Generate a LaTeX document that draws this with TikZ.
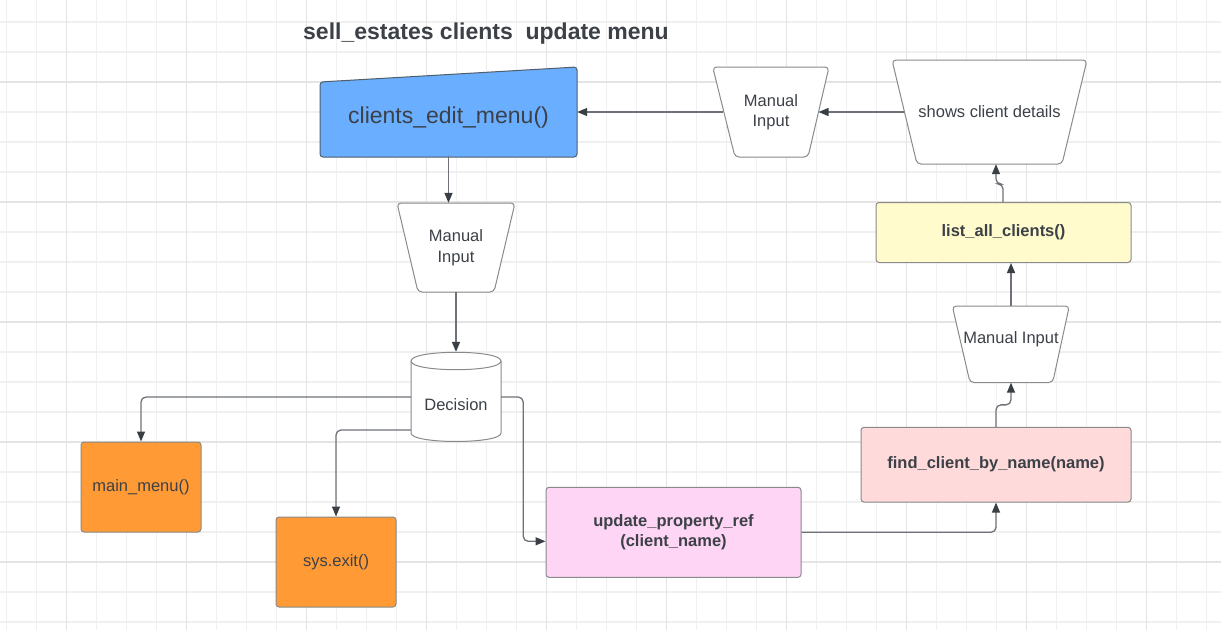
\documentclass[tikz,border=0pt]{standalone}
\usepackage{fontspec}
\setmainfont{Liberation Sans}
\usetikzlibrary{arrows.meta}
\definecolor{txt}{HTML}{3C4148}
\definecolor{gridminor}{HTML}{F0F0F0}
\definecolor{gridmajor}{HTML}{E4E4E4}
\definecolor{boxline}{HTML}{8A8A8A}
\definecolor{conline}{HTML}{6E7278}
\definecolor{headcol}{HTML}{3A3F46}
\definecolor{blueFill}{HTML}{6AAEFF}
\definecolor{blueLine}{HTML}{4F5D6C}
\definecolor{orangeFill}{HTML}{FF9A35}
\definecolor{pinkFill}{HTML}{FFD5F5}
\definecolor{roseFill}{HTML}{FFDADA}
\definecolor{yellowFill}{HTML}{FFFBCC}
\tikzset{
  regtxt/.style={text=txt, font=\fontsize{16.5}{20.5}\selectfont, align=center},
  boldtxt/.style={text=txt, font=\fontsize{16.5}{20.5}\selectfont\bfseries, align=center},
  procbox/.style={rectangle, draw=boxline, line width=1pt, rounded corners=3pt, inner sep=0pt},
  holder/.style={rectangle, draw=none, inner sep=0pt},
  shapeline/.style={draw=boxline, line width=1pt, rounded corners=4pt, fill=white},
  arr/.style={draw=conline, line width=1.3pt, rounded corners=5pt,
    -{Triangle[length=10pt,width=8pt,fill=headcol,color=headcol]}},
}
\begin{document}
\begin{tikzpicture}[x=1pt,y=-1pt]
\useasboundingbox (0,0) rectangle (1221,630);
\fill[white] (0,0) rectangle (1221,630);
% grid
\foreach \k in {0,...,40} {\draw[gridminor, line width=1.2pt] ({6.7+30*\k},0) -- ({6.7+30*\k},630);}
\foreach \k in {0,...,20} {\draw[gridminor, line width=1.2pt] (0,{22+30*\k}) -- (1221,{22+30*\k});}
\foreach \k in {0,...,9} {\draw[gridmajor, line width=1.2pt] ({66.7+120*\k},0) -- ({66.7+120*\k},630);}
\foreach \k in {0,...,4} {\draw[gridmajor, line width=1.2pt] (0,{82+120*\k}) -- (1221,{82+120*\k});}

% title
\node[text=txt, font=\fontsize{23}{27}\selectfont\bfseries] (title) at (486,34) {sell\_estates clients\ \ update menu};

% blue manual operation box
\draw[draw=blueLine, fill=blueFill, line width=1pt, rounded corners=3pt]
  (320,82) -- (577,67) -- (577,157) -- (320,157) -- cycle;
\node[holder, minimum width=257pt, minimum height=75pt, text=txt,
  font=\fontsize{23}{27}\selectfont] (edit) at (448.5,118) {clients\_edit\_menu()};

% manual input (middle)
\draw[shapeline] (397,203) -- (515,203) -- (494,292) -- (418,292) -- cycle;
\node[holder, regtxt, minimum width=97pt, minimum height=89pt] (mi1) at (456,247.5) {Manual\\Input};

% decision cylinder
\draw[draw=boxline, fill=white, line width=1pt]
  (411,361) -- (411,433) .. controls (411,444.3) and (501,444.3) .. (501,433) -- (501,361)
  .. controls (501,349.4) and (411,349.4) .. (411,361) -- cycle;
\draw[draw=boxline, line width=1pt] (411,361) .. controls (411,372.6) and (501,372.6) .. (501,361);
\node[holder, regtxt, minimum width=90pt, minimum height=90pt] (dec) at (456,397) {\raisebox{-28pt}{Decision}};

% orange boxes
\node[procbox, fill=orangeFill, regtxt, minimum width=120pt, minimum height=90pt] (main) at (141,487) {main\_menu()};
\node[procbox, fill=orangeFill, regtxt, minimum width=120pt, minimum height=90pt] (sys) at (336,562) {sys.exit()};

% update box
\node[procbox, fill=pinkFill, boldtxt, minimum width=255pt, minimum height=90pt] (upd) at (673.5,532.3) {update\_property\_ref\\(client\_name)};

% find box
\node[procbox, fill=roseFill, boldtxt, minimum width=270pt, minimum height=74.7pt] (find) at (996,464.7) {find\_client\_by\_name(name)};

% manual input (right)
\draw[shapeline] (952.3,306) -- (1069.3,306) -- (1052.7,382.5) -- (970,382.5) -- cycle;
\node[holder, regtxt, minimum width=100pt, minimum height=76.5pt] (mi3) at (1011,344.2) {\raisebox{14pt}{Manual Input}};

% list box
\node[procbox, fill=yellowFill, boldtxt, minimum width=255pt, minimum height=60pt] (list) at (1003.5,232.5) {list\_all\_clients()};

% shows client details
\draw[shapeline] (892,60) -- (1087,60) -- (1062,164) -- (917,164) -- cycle;
\node[holder, regtxt, minimum width=170pt, minimum height=104pt] (shows) at (989.5,112) {shows client details};

% manual input (top right)
\draw[shapeline] (712.7,67) -- (829,67) -- (808,157) -- (735,157) -- cycle;
\node[holder, regtxt, minimum width=94.7pt, minimum height=90pt] (mi2) at (771,112) {Manual\\Input};

% connectors
\draw[arr] (edit.south) -- (edit.south |- mi1.north);
\draw[arr] (mi1.south) -- (dec.north);
\draw[arr] (dec.west) -| (main.north);
\draw[arr] ([yshift=-33pt]dec.west) -| (sys.north);
\draw[arr] (dec.east) -- ++(22,0) |- ([yshift=-9pt]upd.west);
\draw[arr] (upd.east) -| (find.south);
\draw[arr] (find.north) -- ++(0,-22) -| (mi3.south);
\draw[arr] (mi3.north) -- (mi3.north |- list.south);
\draw[arr] ([xshift=-0.5pt]list.north) -- ++(0,-18) -| ([xshift=6.5pt]shows.south);
\draw[arr] (shows.west) -- (mi2.east);
\draw[arr] (mi2.west) -- (mi2.west -| edit.east);
\end{tikzpicture}
\end{document}
